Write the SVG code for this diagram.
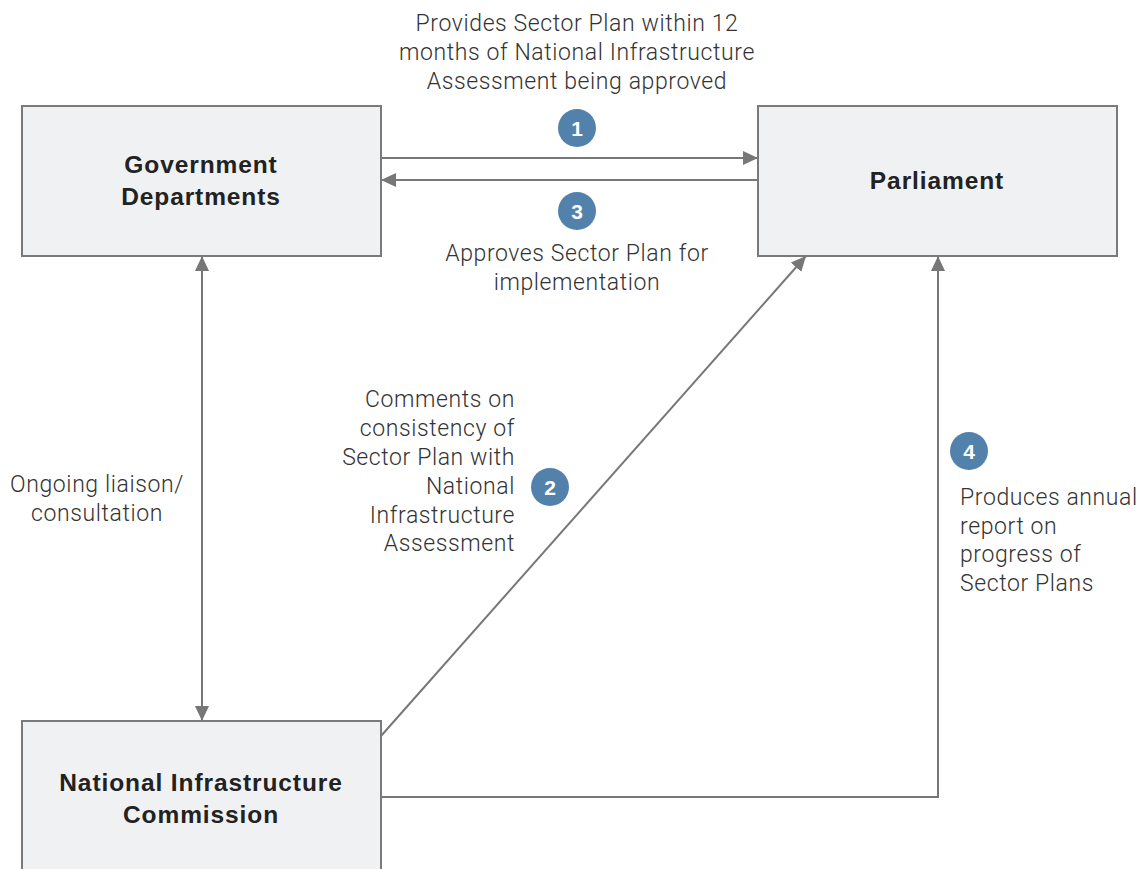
<svg xmlns="http://www.w3.org/2000/svg" width="1144" height="869" viewBox="0 0 1144 869">
<style>
.box{fill:#f0f1f3;stroke:#7a7a7a;stroke-width:2}
.bt{font-family:"Liberation Sans",Arial,sans-serif;font-weight:bold;font-size:24.5px;letter-spacing:0.9px;fill:#222;text-anchor:middle}
.lt{font-family:Roboto,"Liberation Sans",sans-serif;font-weight:300;font-size:23px;letter-spacing:0.6px;fill:#333}
.ln{stroke:#777;stroke-width:2;fill:none}
.badge{fill:#5282ab}
.bn{font-family:"Liberation Sans",Arial,sans-serif;font-weight:bold;font-size:21px;fill:#fff;text-anchor:middle}
</style>
<defs>
<marker id="ah" viewBox="0 0 15 14" refX="15" refY="7" markerWidth="15" markerHeight="14" markerUnits="userSpaceOnUse" orient="auto-start-reverse"><path d="M0,0L15,7L0,14z" fill="#777"/></marker>
</defs>
<g id="connectors">
<line class="ln" x1="381" y1="158" x2="758" y2="158" marker-end="url(#ah)"/>
<line class="ln" x1="758" y1="180" x2="381" y2="180" marker-end="url(#ah)"/>
<line class="ln" x1="202" y1="256" x2="202" y2="721" marker-start="url(#ah)" marker-end="url(#ah)"/>
<line class="ln" x1="381" y1="736" x2="806" y2="256" marker-end="url(#ah)"/>
<polyline class="ln" points="381,797 938,797 938,256" marker-end="url(#ah)"/>
</g>
<g id="gov">
<rect class="box" x="22" y="106" width="359" height="150"/>
<text class="bt" x="201" y="173">Government</text>
<text class="bt" x="201" y="205">Departments</text>
</g>
<g id="parliament">
<rect class="box" x="758" y="106" width="359" height="150"/>
<text class="bt" x="937" y="189">Parliament</text>
</g>
<g id="nic">
<rect class="box" x="22" y="721" width="359" height="160"/>
<text class="bt" x="201" y="791">National Infrastructure</text>
<text class="bt" x="201" y="823">Commission</text>
</g>
<g id="labels">
<text class="lt" text-anchor="middle"><tspan x="577" y="31">Provides Sector Plan within 12</tspan><tspan x="577" y="60">months of National Infrastructure</tspan><tspan x="577" y="89">Assessment being approved</tspan></text>
<text class="lt" text-anchor="middle"><tspan x="577" y="261">Approves Sector Plan for</tspan><tspan x="577" y="290">implementation</tspan></text>
<text class="lt" text-anchor="end"><tspan x="515" y="407">Comments on</tspan><tspan x="515" y="436">consistency of</tspan><tspan x="515" y="465">Sector Plan with</tspan><tspan x="515" y="494">National</tspan><tspan x="515" y="523">Infrastructure</tspan><tspan x="515" y="551">Assessment</tspan></text>
<text class="lt" text-anchor="middle"><tspan x="97" y="492">Ongoing liaison/</tspan><tspan x="97" y="521">consultation</tspan></text>
<text class="lt"><tspan x="960" y="505">Produces annual</tspan><tspan x="960" y="534">report on</tspan><tspan x="960" y="562">progress of</tspan><tspan x="960" y="591">Sector Plans</tspan></text>
</g>
<g id="badges">
<circle class="badge" cx="577" cy="128" r="19"/><text class="bn" x="577" y="136">1</text>
<circle class="badge" cx="577" cy="211" r="19"/><text class="bn" x="577" y="219">3</text>
<circle class="badge" cx="550" cy="487" r="19"/><text class="bn" x="550" y="495">2</text>
<circle class="badge" cx="969" cy="451" r="19"/><text class="bn" x="969" y="459">4</text>
</g>
</svg>
